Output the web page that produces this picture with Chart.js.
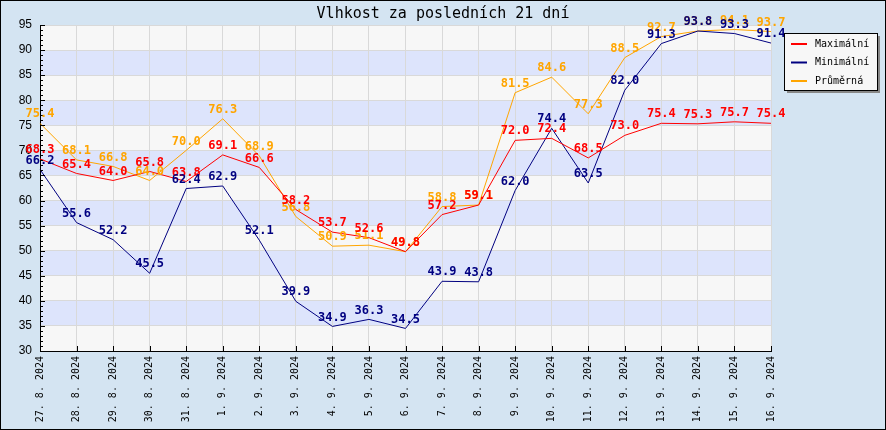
<!DOCTYPE html>
<html>
<head>
<meta charset="utf-8">
<script src="https://cdn.jsdelivr.net/npm/chart.js@4.4.0/dist/chart.umd.min.js"></script>
<style>
  body { margin: 0; background: #fff; }
  canvas { display: block; }
</style>
</head>
<body>
<canvas id="humidity" width="886" height="430"></canvas>
<script>
const days = ['27. 8. 2024', '28. 8. 2024', '29. 8. 2024', '30. 8. 2024', '31. 8. 2024',
  '1. 9. 2024', '2. 9. 2024', '3. 9. 2024', '4. 9. 2024', '5. 9. 2024', '6. 9. 2024',
  '7. 9. 2024', '8. 9. 2024', '9. 9. 2024', '10. 9. 2024', '11. 9. 2024', '12. 9. 2024',
  '13. 9. 2024', '14. 9. 2024', '15. 9. 2024', '16. 9. 2024'];
const maxValues = [68.3, 65.4, 64.0, 65.8, 63.8, 69.1, 66.6, 58.2, 53.7, 52.6, 49.8,
  57.2, 59.1, 72.0, 72.4, 68.5, 73.0, 75.4, 75.3, 75.7, 75.4];
const minValues = [66.2, 55.6, 52.2, 45.5, 62.4, 62.9, 52.1, 39.9, 34.9, 36.3, 34.5,
  43.9, 43.8, 62.0, 74.4, 63.5, 82.0, 91.3, 93.8, 93.3, 91.4];
const avgValues = [75.4, 68.1, 66.8, 64.0, 70.0, 76.3, 68.9, 56.8, 50.9, 51.1, 49.8,
  58.8, 59.1, 81.5, 84.6, 77.3, 88.5, 92.7, 93.8, 94.1, 93.7];
const yTicks = [30, 35, 40, 45, 50, 55, 60, 65, 70, 75, 80, 85, 90, 95];

const mono = '"DejaVu Sans Mono", monospace';

// background, bands, title, legend, axis ticks and point labels
const decor = {
  id: 'decor',
  beforeDraw(chart) {
    const c = chart.ctx, a = chart.chartArea, y = chart.scales.y;
    c.save();
    c.fillStyle = '#D4E4F2';
    c.fillRect(0, 0, chart.width, chart.height);
    c.fillStyle = '#F7F7F7';
    c.fillRect(a.left, a.top, a.right - a.left, a.bottom - a.top);
    c.fillStyle = '#DDE4FC';
    for (let i = 0; i < yTicks.length - 1; i++) {
      if (yTicks[i] % 10 === 5) {
        const t = y.getPixelForValue(yTicks[i + 1]);
        const b = y.getPixelForValue(yTicks[i]);
        c.fillRect(a.left, t, a.right - a.left, b - t);
      }
    }
    c.strokeStyle = '#000';
    c.lineWidth = 1;
    c.strokeRect(0.5, 0.5, chart.width - 1, chart.height - 1);
    c.fillStyle = '#000';
    c.font = '15px ' + mono;
    c.textAlign = 'center';
    c.textBaseline = 'middle';
    c.fillText('Vlhkost za posledních 21 dní', chart.width / 2, 14);
    c.restore();
  },
  afterDatasetsDraw(chart) {
    const c = chart.ctx, a = chart.chartArea, y = chart.scales.y, x = chart.scales.x;
    c.save();
    c.strokeStyle = '#000';
    c.lineWidth = 1;
    c.beginPath();
    for (let v = 30; v <= 95; v++) {
      const py = Math.round(y.getPixelForValue(v)) + 0.5;
      const len = v % 5 === 0 ? 5 : 3;
      c.moveTo(a.left, py);
      c.lineTo(a.left + len, py);
    }
    for (let i = 0; i < days.length; i++) {
      const px = Math.round(x.getPixelForValue(i)) + 0.5;
      c.moveTo(px, a.bottom);
      c.lineTo(px, a.bottom - 5);
    }
    c.stroke();

    // point labels
    c.font = 'bold 12px ' + mono;
    c.textAlign = 'center';
    c.textBaseline = 'bottom';
    [2, 0, 1].forEach(di => {
      const ds = chart.data.datasets[di];
      const meta = chart.getDatasetMeta(di);
      c.fillStyle = ds.borderColor;
      meta.data.forEach((pt, i) => {
        c.fillText(ds.data[i].toFixed(1), pt.x, pt.y - 3);
      });
    });

    // legend
    const lx = 784, ly = 33, lw = 93, lh = 57;
    c.fillStyle = '#888';
    c.fillRect(lx + 3, ly + 3, lw, lh);
    c.fillStyle = '#F7F7F7';
    c.fillRect(lx, ly, lw, lh);
    c.strokeStyle = '#000';
    c.strokeRect(lx + 0.5, ly + 0.5, lw, lh);
    c.font = '10px ' + mono;
    c.textAlign = 'left';
    c.textBaseline = 'middle';
    chart.data.datasets.forEach((ds, i) => {
      const ry = 44 + i * 18.5;
      c.strokeStyle = ds.borderColor;
      c.lineWidth = 2;
      c.beginPath();
      c.moveTo(791, ry);
      c.lineTo(807, ry);
      c.stroke();
      c.fillStyle = '#000';
      c.fillText(ds.label, 815, ry);
    });
    c.restore();
  }
};

new Chart(document.getElementById('humidity'), {
  type: 'line',
  data: {
    labels: days,
    datasets: [
      { label: 'Maximální', data: maxValues, borderColor: '#FF0000', borderWidth: 1, pointRadius: 0, tension: 0 },
      { label: 'Minimální', data: minValues, borderColor: '#000080', borderWidth: 1, pointRadius: 0, tension: 0 },
      { label: 'Průměrná', data: avgValues, borderColor: '#FFA500', borderWidth: 1, pointRadius: 0, tension: 0 }
    ]
  },
  options: {
    responsive: false,
    animation: false,
    layout: { padding: { top: 25, right: 115, left: 0, bottom: 0 } },
    plugins: {
      legend: { display: false },
      title: { display: false },
      tooltip: { enabled: false }
    },
    scales: {
      x: {
        offset: false,
        grid: { color: '#D9D9D9', drawTicks: false },
        border: { color: '#000', width: 1 },
        ticks: {
          autoSkip: false, minRotation: 90, maxRotation: 90, padding: 5,
          color: '#000', font: { family: mono, size: 10 }
        },
        afterFit(s) { s.height = 79; }
      },
      y: {
        min: 30, max: 95,
        grid: { color: '#D9D9D9', drawTicks: false },
        border: { color: '#000', width: 1 },
        ticks: {
          stepSize: 5, padding: 8, color: '#000',
          font: { family: '"Liberation Sans", Arial, sans-serif', size: 12 }
        },
        afterFit(s) { s.width = 40; }
      }
    }
  },
  plugins: [decor]
});
</script>
</body>
</html>
